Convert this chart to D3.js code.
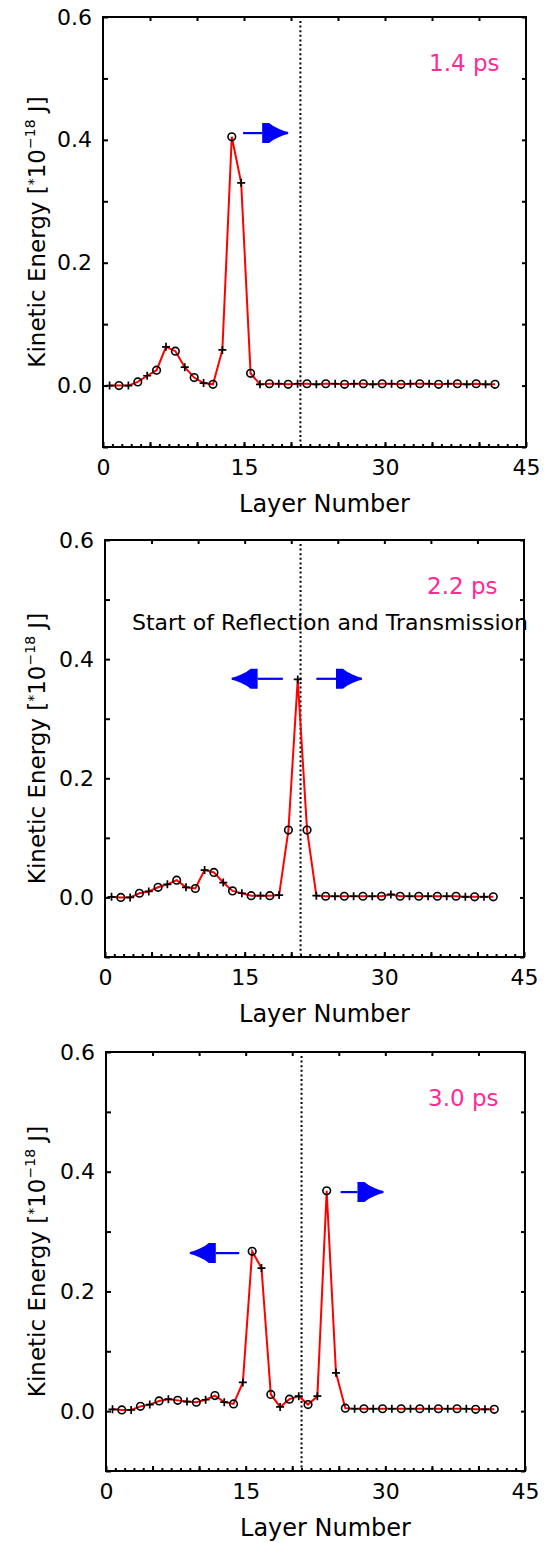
<!DOCTYPE html>
<html><head><meta charset="utf-8">
<script src="https://cdn.jsdelivr.net/npm/d3@7"></script>
<style>
body{margin:0;background:#fff}
svg{display:block;background:#fff}
text{font-family:"DejaVu Sans","Verdana",sans-serif}
</style>
</head><body>
<svg id="c" width="545" height="1543"></svg>
<script>
// ---- data ----
const layers = [0.7,1.7,2.7,3.7,4.7,5.7,6.7,7.7,8.7,9.7,10.7,11.7,12.7,13.7,14.7,15.7,16.7,17.7,18.7,19.7,20.7,
                21.7,22.7,23.7,24.7,25.7,26.7,27.7,28.7,29.7,30.7,31.7,32.7,33.7,34.7,35.7,36.7,37.7,38.7,39.7,40.7,41.7];
const ke14 = [0.000,0.000,0.000,0.006,0.016,0.025,0.063,0.056,0.030,0.013,0.004,0.002,0.058,0.405,0.330,0.020,
              0.002,0.003,0.003,0.002,0.003,0.003,0.002,0.003,0.003,0.002,0.003,0.003,0.002,0.003,0.003,0.002,0.003,
              0.003,0.003,0.002,0.003,0.003,0.002,0.003,0.002,0.002];
const ke22 = [0.001,0.000,0.000,0.007,0.010,0.017,0.022,0.029,0.017,0.015,0.046,0.042,0.025,0.011,0.007,0.003,
              0.003,0.003,0.004,0.113,0.366,0.113,0.003,
              0.002,0.002,0.002,0.002,0.002,0.002,0.002,0.005,0.002,0.002,0.002,0.002,0.002,0.002,0.002,0.001,0.001,0.001,0.001];
const ke30 = [0.003,0.002,0.002,0.008,0.011,0.017,0.020,0.018,0.016,0.015,0.019,0.026,0.015,0.012,0.048,0.267,
              0.239,0.028,0.007,0.020,0.025,0.011,0.025,0.368,0.064,0.005,
              0.004,0.004,0.004,0.004,0.004,0.004,0.004,0.004,0.004,0.004,0.004,0.004,0.004,0.003,0.003,0.003];
const timeLabels = ["1.4 ps","2.2 ps","3.0 ps"];
const xLabelTicks = [0,15,30,45];
const yLabelTicks = [0.0,0.2,0.4,0.6];
const xDomain = [0,45];
const yDomain = [-0.1,0.6];
const interfaceLayer = 21;
const arrows14 = [{from:14.9,to:19.7,ke:0.411}];
const arrows22 = [{from:19.1,to:13.6,ke:0.367},{from:22.7,to:27.6,ke:0.367}];
const arrows30 = [{from:14.3,to:9.0,ke:0.264},{from:25.2,to:29.8,ke:0.366}];
const note22 = "Start of Reflection and Transmission";

const panels = [
  {values:ke14, label:timeLabels[0], arrows:arrows14, note:null,   box:{l:103,r:526,t:17,b:447}},
  {values:ke22, label:timeLabels[1], arrows:arrows22, note:note22, box:{l:105,r:524,t:540,b:957}},
  {values:ke30, label:timeLabels[2], arrows:arrows30, note:null,   box:{l:106,r:525,t:1052,b:1471}}
];

const svg = d3.select("#c");
const fmt = d3.format(".1f");

panels.forEach(p => {
  const {l,r,t,b} = p.box;
  const x = d3.scaleLinear(xDomain,[l,r]);
  const y = d3.scaleLinear(yDomain,[b,t]);
  const g = svg.append("g");

  // axes (ticks inward)
  const yTicks = d3.range(-1,7).map(v=>v/10);
  const left = g.append("g").attr("transform",`translate(${l},0)`)
    .call(d3.axisLeft(y).tickValues(yTicks).tickSize(-5).tickPadding(11)
      .tickFormat(d => yLabelTicks.some(v=>Math.abs(v-d)<1e-9) ? fmt(d) : ""));
  const right = g.append("g").attr("transform",`translate(${r},0)`)
    .call(d3.axisRight(y).tickValues(yTicks).tickSize(-4).tickFormat(""));
  const top = g.append("g").attr("transform",`translate(0,${t})`)
    .call(d3.axisTop(x).tickValues(d3.range(5,45,5)).tickSize(-4).tickFormat(""));
  const botMinor = g.append("g").attr("transform",`translate(0,${b})`)
    .call(d3.axisBottom(x).tickValues(d3.range(1,45,1)).tickSize(-3).tickFormat(""));
  const bot = g.append("g").attr("transform",`translate(0,${b})`)
    .call(d3.axisBottom(x).tickValues(d3.range(0,46,5)).tickSize(-5).tickPadding(12)
      .tickFormat(d => xLabelTicks.includes(d) ? d : ""));
  [left,right,top,botMinor,bot].forEach(a=>{
    a.select(".domain").remove();
    a.selectAll(".tick line").attr("stroke","#000").attr("stroke-width",2);
    a.selectAll(".tick text").attr("font-size",22).attr("fill","#000")
      .attr("font-family","DejaVu Sans");
  });

  // frame
  g.append("rect").attr("x",l).attr("y",t).attr("width",r-l).attr("height",b-t)
    .attr("fill","none").attr("stroke","#000").attr("stroke-width",2);

  // interface line
  g.append("line").attr("x1",x(interfaceLayer)).attr("x2",x(interfaceLayer))
    .attr("y1",t+4).attr("y2",b-3)
    .attr("stroke","#000").attr("stroke-width",2).attr("stroke-dasharray","2,2.6");

  // data line
  const pts = layers.map((L,i)=>({L, v:p.values[i], i}));
  g.append("path").datum(pts)
    .attr("d", d3.line().x(d=>x(d.L)).y(d=>y(d.v)))
    .attr("fill","none").attr("stroke","#ff0000").attr("stroke-width",2);

  // markers
  const mk = g.append("g");
  pts.forEach(d=>{
    if (d.i % 2 === 1) {
      mk.append("circle").attr("cx",x(d.L)).attr("cy",y(d.v)).attr("r",3.8)
        .attr("fill","none").attr("stroke","#000").attr("stroke-width",1.6);
    } else {
      mk.append("path").attr("transform",`translate(${x(d.L)},${y(d.v)})`)
        .attr("d","M-4,0H4M0,-4V4").attr("stroke","#000").attr("stroke-width",1.7);
    }
  });

  // arrows
  p.arrows.forEach(a=>{
    const x0 = x(a.from), x1 = x(a.to), yy = y(a.ke);
    const s = x1 > x0 ? 1 : -1;
    const headLen = 26;
    g.append("line").attr("x1",x0).attr("x2",x1 - s*headLen).attr("y1",yy).attr("y2",yy)
      .attr("stroke","#0000ff").attr("stroke-width",2.2);
    const head = [[-26,-10],[-19,-10],[-15,-7],[-9,-4],[-4,-2],[0,-1],[0,1],[-4,2],[-9,4],[-15,7],[-19,10],[-26,10]];
    g.append("polygon")
      .attr("points", head.map(([hx,hy])=>`${x1 + s*hx},${yy+hy}`).join(" "))
      .attr("fill","#0000ff");
  });

  // time label
  g.append("text").attr("x",r-97).attr("y",t+54).attr("font-size",23)
    .attr("fill","#ff2a96").text(p.label);

  if (p.note) {
    g.append("text").attr("x",l+27).attr("y",t+90).attr("font-size",22)
      .attr("fill","#000").text(p.note);
  }

  // axis titles
  g.append("text").attr("x",(l+r)/2+10).attr("y",b+65).attr("text-anchor","middle")
    .attr("font-size",24).attr("fill","#000").text("Layer Number");
  const yt = g.append("text")
    .attr("transform",`translate(45,${(t+b)/2}) rotate(-90)`)
    .attr("text-anchor","middle").attr("font-size",23).attr("fill","#000");
  yt.append("tspan").text("Kinetic Energy [");
  yt.append("tspan").attr("font-size",14).attr("dy",-7).text("*");
  yt.append("tspan").attr("dy",7).text("10");
  yt.append("tspan").attr("font-size",14).attr("dy",-10).text("\u221218");
  yt.append("tspan").attr("dy",10).text(" J]");
});
</script>
</body></html>
